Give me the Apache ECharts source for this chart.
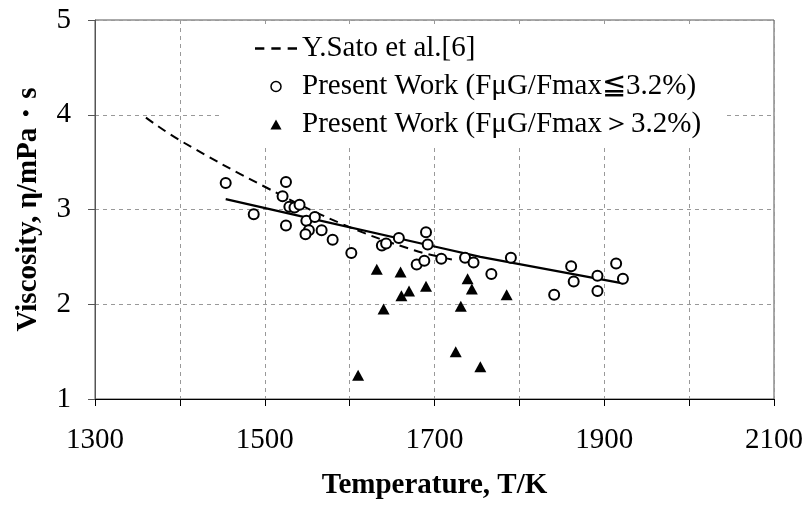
<!DOCTYPE html>
<html>
<head>
<meta charset="utf-8">
<script src="https://cdn.jsdelivr.net/npm/echarts@6/dist/echarts.min.js"></script>
<style>
  html, body { margin: 0; padding: 0; background: #fff; }
  #chart { width: 809px; height: 505px; }
</style>
</head>
<body>
<div id="chart"></div>
<script>
// Y.Sato et al.[6] (dashed curve)
const satoT = [1360, 1400, 1500, 1593, 1676, 1722]
const satoV = [3.97, 3.73, 3.24, 2.84, 2.57, 2.47]

// fitted line through present work
const fitT = [1454, 1542, 1700, 1754, 1922]
const fitV = [3.11, 2.93, 2.61, 2.50, 2.22]

// Present Work (FμG/Fmax ≦ 3.2%) - open circles
const lowT = [1454, 1487, 1525, 1521, 1529, 1535, 1541, 1525, 1549, 1559, 1552, 1548, 1567, 1580,
  1602, 1638, 1643, 1658, 1690, 1692, 1679, 1688, 1708, 1736, 1746, 1767, 1790, 1841, 1861, 1864,
  1892, 1892, 1914, 1922]
const lowV = [3.28, 2.95, 3.29, 3.14, 3.03, 3.02, 3.05, 2.83, 2.88, 2.92, 2.78, 2.74, 2.78, 2.68,
  2.54, 2.62, 2.64, 2.70, 2.76, 2.63, 2.42, 2.46, 2.48, 2.49, 2.44, 2.32, 2.49, 2.10, 2.40, 2.24,
  2.30, 2.14, 2.43, 2.27]

// Present Work (FμG/Fmax > 3.2%) - filled triangles
const highT = [1632, 1660, 1640, 1661, 1670, 1690, 1739, 1744, 1731, 1785, 1725, 1754, 1610]
const highV = [2.37, 2.34, 1.95, 2.09, 2.14, 2.19, 2.27, 2.16, 1.98, 2.10, 1.50, 1.34, 1.25]

const xTickLabels = [1300, 1500, 1700, 1900, 2100]
const yTickLabels = [1, 2, 3, 4, 5]

const names = ['Y.Sato et al.[6]', 'Present Work (FμG/Fmax≦3.2%)', 'Present Work (FμG/Fmax＞3.2%)']

const pairs = (xs, ys) => xs.map((x, i) => [x, ys[i]])
const font = 'Liberation Serif, Times New Roman, serif'

const chart = echarts.init(document.getElementById('chart'))
chart.setOption({
  animation: false,
  textStyle: { fontFamily: font, color: '#000' },
  grid: {
    left: 95, right: 35, top: 20, bottom: 102,
    show: true, borderColor: '#555', borderWidth: 1
  },
  legend: {
    orient: 'vertical',
    left: 220, top: 24,
    padding: [10, 22, 8, 35],
    backgroundColor: '#fff',
    itemWidth: 42, itemHeight: 10, itemGap: 9,
    textStyle: { fontFamily: font, fontSize: 29, color: '#000' },
    data: [
      { name: names[0], icon: 'path://M0 0 H8 V2 H0 Z M14 0 H22 V2 H14 Z M28 0 H36 V2 H28 Z',
        itemStyle: { color: '#000', borderWidth: 0 } },
      { name: names[1], icon: 'circle', itemStyle: { borderWidth: 1.5 } },
      { name: names[2], icon: 'path://M5 0 L10 9 L0 9 Z' }
    ]
  },
  xAxis: {
    type: 'value', min: 1300, max: 2100, interval: 100,
    name: 'Temperature, T/K', nameLocation: 'middle', nameGap: 72,
    nameTextStyle: { fontFamily: font, fontSize: 29, fontWeight: 'bold', color: '#000' },
    axisLine: { lineStyle: { color: '#000', width: 1 } },
    axisTick: { inside: false, length: 7, lineStyle: { color: '#000' } },
    axisLabel: {
      margin: 27, fontSize: 29, color: '#000', fontFamily: font,
      formatter: v => xTickLabels.includes(v) ? String(v) : ''
    },
    splitLine: { lineStyle: { color: '#999', type: [4, 4] } }
  },
  yAxis: {
    type: 'value', min: 1, max: 5, interval: 1,
    name: 'Viscosity, η/mPa・s', nameLocation: 'middle', nameGap: 52,
    nameTextStyle: { fontFamily: font, fontSize: 29, fontWeight: 'bold', color: '#000' },
    axisLine: { show: true, lineStyle: { color: '#555', width: 1 } },
    axisTick: { show: true, length: 7, lineStyle: { color: '#555' } },
    axisLabel: {
      margin: 24, fontSize: 29, color: '#000', fontFamily: font,
      formatter: v => yTickLabels.includes(v) ? String(v) : ''
    },
    splitLine: { lineStyle: { color: '#999', type: [4, 4] } }
  },
  series: [
    {
      name: names[0], type: 'line', data: pairs(satoT, satoV),
      symbol: 'none', showSymbol: false, smooth: 0.4,
      lineStyle: { color: '#000', width: 2, type: [9, 6] },
      itemStyle: { color: '#000' }, z: 3
    },
    {
      name: 'fit', type: 'line', data: pairs(fitT, fitV),
      symbol: 'none', showSymbol: false,
      lineStyle: { color: '#000', width: 2.2 }, z: 3
    },
    {
      name: names[1], type: 'scatter', data: pairs(lowT, lowV),
      symbol: 'circle', symbolSize: 10,
      itemStyle: { color: '#fff', borderColor: '#000', borderWidth: 2, opacity: 1 }, z: 4
    },
    {
      name: names[2], type: 'scatter', data: pairs(highT, highV),
      symbol: 'triangle', symbolSize: [12, 11],
      itemStyle: { color: '#000', opacity: 1 }, z: 4
    }
  ]
})
</script>
</body>
</html>
